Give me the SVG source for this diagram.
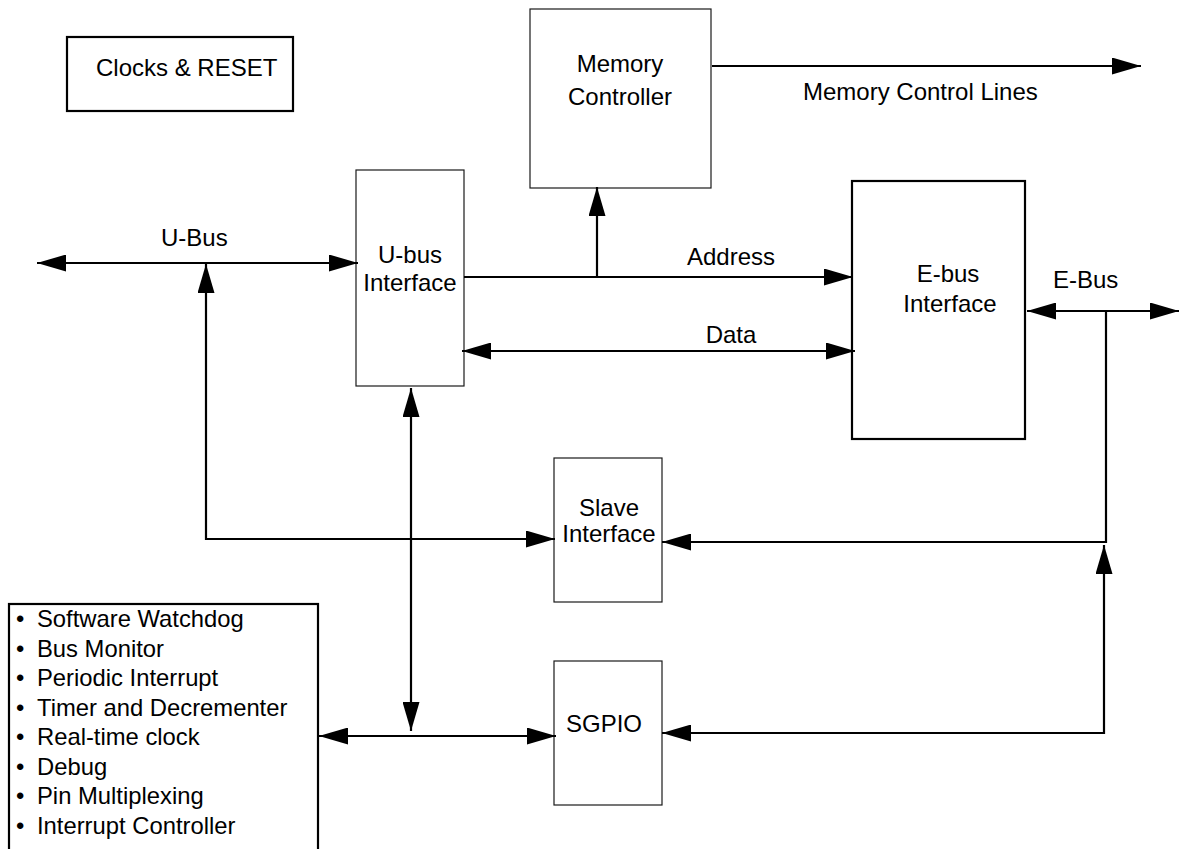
<svg xmlns="http://www.w3.org/2000/svg" width="1179" height="849" viewBox="0 0 1179 849">
<style>
text { font-family: "Liberation Sans", Arial, Helvetica, sans-serif; font-size: 24px; fill: #000; }
.mid { text-anchor: middle; }
.thin { fill: #fff; stroke: #1a1a1a; stroke-width: 1.2; }
.thick { fill: #fff; stroke: #000; stroke-width: 2.2; }
.wire { fill: none; stroke: #000; stroke-width: 2.2; }
.list { font-size: 23.8px; }
</style>
<defs>
<marker id="ah" markerUnits="userSpaceOnUse" markerWidth="30" markerHeight="17" refX="29" refY="8.5" orient="auto-start-reverse" viewBox="0 0 30 17">
<path d="M0,0 L29,8.5 L0,17 Z" fill="#000"/>
</marker>
</defs>
<rect width="1179" height="849" fill="#fff"/>

<g id="clocks-reset">
<rect class="thick" x="67" y="37" width="226" height="74"/>
<text x="96" y="76">Clocks &amp; RESET</text>
</g>

<g id="memory-controller">
<rect class="thin" x="530" y="9" width="181" height="179"/>
<text class="mid" x="620" y="72">Memory</text>
<text class="mid" x="620" y="105">Controller</text>
</g>

<g id="ubus-interface">
<rect class="thin" x="356" y="170" width="108" height="216"/>
<text class="mid" x="410" y="263">U-bus</text>
<text class="mid" x="410" y="291">Interface</text>
</g>

<g id="ebus-interface">
<rect class="thick" x="852" y="181" width="173" height="258"/>
<text class="mid" x="948" y="282">E-bus</text>
<text class="mid" x="950" y="312">Interface</text>
</g>

<g id="slave-interface">
<rect class="thin" x="554" y="458" width="108" height="144"/>
<text class="mid" x="609" y="516">Slave</text>
<text class="mid" x="609" y="542">Interface</text>
</g>

<g id="sgpio">
<rect class="thin" x="554" y="661" width="108" height="144"/>
<text class="mid" x="604" y="732">SGPIO</text>
</g>

<g id="peripherals">
<rect class="thick" x="9" y="604" width="309" height="260"/>
<g class="list">
<text class="list" x="16" y="627">•</text><text class="list" x="37" y="627">Software Watchdog</text>
<text class="list" x="16" y="656.5">•</text><text class="list" x="37" y="656.5">Bus Monitor</text>
<text class="list" x="16" y="686">•</text><text class="list" x="37" y="686">Periodic Interrupt</text>
<text class="list" x="16" y="715.5">•</text><text class="list" x="37" y="715.5">Timer and Decrementer</text>
<text class="list" x="16" y="745">•</text><text class="list" x="37" y="745">Real-time clock</text>
<text class="list" x="16" y="774.5">•</text><text class="list" x="37" y="774.5">Debug</text>
<text class="list" x="16" y="804">•</text><text class="list" x="37" y="804">Pin Multiplexing</text>
<text class="list" x="16" y="833.5">•</text><text class="list" x="37" y="833.5">Interrupt Controller</text>
</g>
</g>

<g id="connectors">
<path class="wire" d="M37,263 L358,263" marker-start="url(#ah)" marker-end="url(#ah)"/>
<path class="wire" d="M206,264 L206,539 L555,539" marker-start="url(#ah)" marker-end="url(#ah)"/>
<path class="wire" d="M464,277 L853,277" marker-end="url(#ah)"/>
<path class="wire" d="M597,277 L597,187" marker-end="url(#ah)"/>
<path class="wire" d="M462,351 L855,351" marker-start="url(#ah)" marker-end="url(#ah)"/>
<path class="wire" d="M712,66 L1141,66" marker-end="url(#ah)"/>
<path class="wire" d="M1027,311 L1179,311" marker-start="url(#ah)" marker-end="url(#ah)"/>
<path class="wire" d="M1106,311 L1106,542 L662,542" marker-end="url(#ah)"/>
<path class="wire" d="M1104,545 L1104,733 L662,733" marker-start="url(#ah)" marker-end="url(#ah)"/>
<path class="wire" d="M411,388 L411,731" marker-start="url(#ah)" marker-end="url(#ah)"/>
<path class="wire" d="M319,736 L556,736" marker-start="url(#ah)" marker-end="url(#ah)"/>
<text x="161" y="246">U-Bus</text>
<text class="mid" x="731" y="265">Address</text>
<text class="mid" x="731" y="343">Data</text>
<text x="1053" y="288">E-Bus</text>
<text x="803" y="100">Memory Control Lines</text>
</g>
</svg>
